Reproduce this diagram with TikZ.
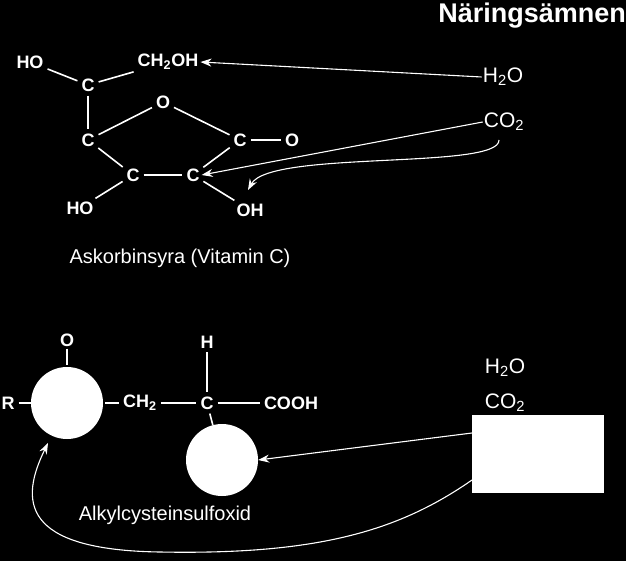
\documentclass[tikz,border=0pt]{standalone}
\usepackage{fontspec}
\setmainfont{Liberation Sans}
\usetikzlibrary{arrows.meta}
\begin{document}
\begin{tikzpicture}[x=1pt,y=-1pt,
  atm/.style={font=\bfseries\fontsize{18}{19}\selectfont,text=white,inner sep=2pt},
  big/.style={font=\fontsize{21}{23}\selectfont,text=white,inner sep=1pt},
  lbl/.style={font=\fontsize{20}{22}\selectfont,text=white},
  bd/.style={draw=white,line width=1.6pt,shorten <=2pt,shorten >=2pt},
  ar/.style={draw=white,line width=1.1pt,-{Stealth[length=11pt,width=8pt]}},
  ring/.style={circle,fill=white,minimum size=72pt,inner sep=0pt}]
\fill[black] (0,0) rectangle (626,561);
\useasboundingbox (0,0) rectangle (626,561);
\node[font=\bfseries\fontsize{27}{29}\selectfont,text=white,anchor=east,inner sep=0pt] (title) at (626,16) {Näringsämnen};
% top molecule
\node[atm] (ho1) at (30,62) {HO};
\node[atm] (c1) at (88,85) {C};
\node[atm] (ch2oh) at (168,62) {CH\textsubscript{2}OH};
\node[atm] (o1) at (163,102) {O};
\node[atm] (c2) at (88,140) {C};
\node[atm] (c3) at (240,140) {C};
\node[atm] (o2) at (292,140) {O};
\node[atm] (c4) at (133,175) {C};
\node[atm] (c5) at (193,175) {C};
\node[atm] (ho2) at (80,208) {HO};
\node[atm] (oh) at (250,210) {OH};
\draw[bd] (ho1) -- (c1); \draw[bd] (c1) -- (ch2oh);
\draw[bd] (c1) -- (c2); \draw[bd] (c2) -- (o1);
\draw[bd] (o1) -- (c3); \draw[bd] (c3) -- (o2);
\draw[bd] (c2) -- (c4); \draw[bd] (c4) -- (c5);
\draw[bd] (c5) -- (c3); \draw[bd] (c4) -- (ho2);
\draw[bd] (c5) -- (oh);
\node[lbl] (ask) at (180,258) {Askorbinsyra (Vitamin C)};
\node[big] (h2o1) at (503,77) {H\textsubscript{2}O};
\node[big] (co21) at (504,122) {CO\textsubscript{2}};
\draw[ar] (h2o1.west) -- (ch2oh.east);
\draw[ar] (co21.west) -- (c5.east);
\coordinate (q1) at (499,140);
\draw[ar] (q1) .. controls (500,170) and (270,150) .. (248,190);
% bottom molecule
\node[ring] (r1) at (67,403) {};
\node[ring] (r2) at (222,460) {};
\node[atm] (o3) at (67,340) {O};
\node[atm] (rr) at (8,403) {R};
\node[atm] (ch2) at (140,403) {CH\textsubscript{2}};
\node[atm] (c6) at (207,403) {C};
\node[atm] (h) at (207,342) {H};
\node[atm] (cooh) at (291,403) {COOH};
\draw[bd,shorten <=0pt] (o3) -- (r1); \draw[bd,shorten >=0pt] (rr) -- (r1);
\draw[bd] (r1) -- (ch2); \draw[bd] (ch2) -- (c6);
\draw[bd] (h) -- (c6); \draw[bd] (c6) -- (cooh);
\draw[bd,shorten >=0pt] (c6) -- (r2);
\node[lbl] (alk) at (165,515) {Alkylcysteinsulfoxid};
\node[big] (h2o2) at (505,368) {H\textsubscript{2}O};
\node[big] (co22) at (505,403) {CO\textsubscript{2}};
\node[fill=white,minimum width=132pt,minimum height=78pt,inner sep=0pt] (box) at (538,454) {};
\draw[ar] (472,433) -- (r2.east);
\coordinate (q2) at (472,480);
\draw[ar] (q2) .. controls (400,530) and (320,555) .. (160,552) .. controls (20,550) and (20,500) .. (48,443);
\end{tikzpicture}
\end{document}
